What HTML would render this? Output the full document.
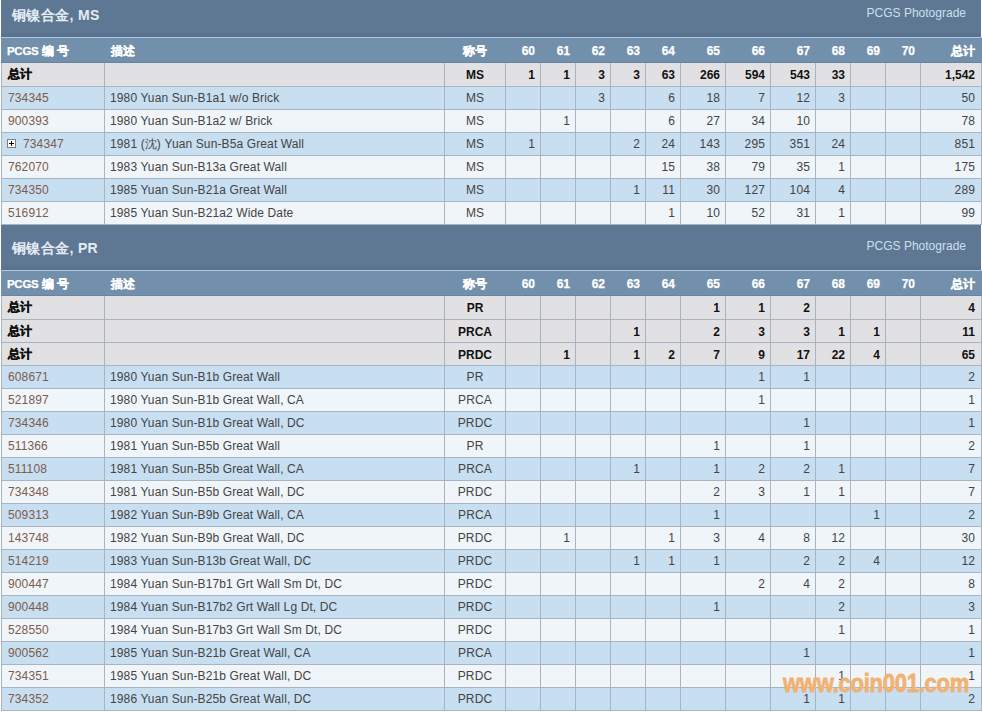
<!DOCTYPE html>
<html><head><meta charset="utf-8"><style>
*{margin:0;padding:0;box-sizing:border-box}
html,body{width:982px;height:712px;overflow:hidden;background:#fff}
body{position:relative;font-family:"Liberation Sans",sans-serif;font-size:12px}
div{position:absolute}
.tb{background:linear-gradient(to bottom,#5e7893 0,#5e7893 41px,#587290 42px,#587290 45px)}
.tt{position:absolute;left:11px;top:14px;font-size:14px;font-weight:bold;color:#e3ecf5;line-height:18px;white-space:nowrap;letter-spacing:0.35px}
.pg{position:absolute;right:15px;top:13px;font-size:12px;color:#cddff0;line-height:16px;white-space:nowrap}
.tl{background:#adc8e0}
.hd{background:linear-gradient(to bottom,#7290ab 0,#7290ab 24px,#6984a1 24px)}
.tot{background:#e1e1e3}
.odd{background:#c8def1}
.even{background:#f0f5f9}
.hl,.vl{background:#a8b4c1}
.c{white-space:nowrap;overflow:visible}
.L{text-align:left;padding-left:6px}
.h0{padding-left:5px}
.M{text-align:center}
.R{text-align:right;padding-right:5px}
.lk{color:#7d5c4c!important}
.h{color:#ffffff;font-weight:bold;line-height:27px;-webkit-text-stroke:0.25px #fff}
.pcgs{letter-spacing:-0.3px;font-size:11.5px}
.b{color:#111;font-weight:bold;line-height:25px}
.b2{line-height:24px}
.zj{position:relative;top:-1px;-webkit-text-stroke:0.4px #111}
.d{color:#444;line-height:22px;letter-spacing:0.12px}
.ds{padding-left:5px}
.last{padding-right:6px!important}
.plus{position:absolute;left:5px;top:6px;width:9px;height:9px;border:1px solid #808080;background:#fff}
.pl{padding-left:21px!important}
.plus::before{content:"";position:absolute;left:1px;top:3px;width:5px;height:1px;background:#000}
.plus::after{content:"";position:absolute;left:3px;top:1px;width:1px;height:5px;background:#000}
.wm{left:783px;top:669px;font-size:25px;font-weight:bold;color:#f1b273;-webkit-text-stroke:0.8px #f1b273;white-space:nowrap;line-height:28px;letter-spacing:-0.3px;transform:scaleX(0.88);transform-origin:0 0}
</style></head><body>
<div class="tb" style="left:1px;top:-8px;width:980px;height:45px;"><span class="tt">铜镍合金, MS</span><span class="pg">PCGS Photograde</span></div><div class="tl" style="left:1px;top:37px;width:981px;height:1px;"></div><div class="hd" style="left:1px;top:38px;width:981px;height:25px;"></div><div class="c h L h0" style="left:2px;top:38px;width:102px;height:25px;"><span class="pcgs">PCGS</span> 编 号</div><div class="c h L" style="left:105px;top:38px;width:339px;height:25px;">描述</div><div class="c h M" style="left:445px;top:38px;width:60px;height:25px;">称号</div><div class="c h R" style="left:506px;top:38px;width:34px;height:25px;">60</div><div class="c h R" style="left:541px;top:38px;width:34px;height:25px;">61</div><div class="c h R" style="left:576px;top:38px;width:34px;height:25px;">62</div><div class="c h R" style="left:611px;top:38px;width:34px;height:25px;">63</div><div class="c h R" style="left:646px;top:38px;width:34px;height:25px;">64</div><div class="c h R" style="left:681px;top:38px;width:44px;height:25px;">65</div><div class="c h R" style="left:726px;top:38px;width:44px;height:25px;">66</div><div class="c h R" style="left:771px;top:38px;width:44px;height:25px;">67</div><div class="c h R" style="left:816px;top:38px;width:34px;height:25px;">68</div><div class="c h R" style="left:851px;top:38px;width:34px;height:25px;">69</div><div class="c h R" style="left:886px;top:38px;width:34px;height:25px;">70</div><div class="c h R last" style="left:921px;top:38px;width:60px;height:25px;">总计</div><div class="tot" style="left:2px;top:63px;width:979px;height:23px;"></div><div class="c b L" style="left:2px;top:63px;width:102px;height:23px;"><span class="zj">总计</span></div><div class="c b M" style="left:445px;top:63px;width:60px;height:23px;">MS</div><div class="c b R" style="left:506px;top:63px;width:34px;height:23px;">1</div><div class="c b R" style="left:541px;top:63px;width:34px;height:23px;">1</div><div class="c b R" style="left:576px;top:63px;width:34px;height:23px;">3</div><div class="c b R" style="left:611px;top:63px;width:34px;height:23px;">3</div><div class="c b R" style="left:646px;top:63px;width:34px;height:23px;">63</div><div class="c b R" style="left:681px;top:63px;width:44px;height:23px;">266</div><div class="c b R" style="left:726px;top:63px;width:44px;height:23px;">594</div><div class="c b R" style="left:771px;top:63px;width:44px;height:23px;">543</div><div class="c b R" style="left:816px;top:63px;width:34px;height:23px;">33</div><div class="c b R last" style="left:921px;top:63px;width:60px;height:23px;">1,542</div><div class="hl" style="left:1px;top:86px;width:981px;height:1px;"></div><div class="odd" style="left:2px;top:87px;width:979px;height:22px;"></div><div class="c d L lk" style="left:2px;top:87px;width:102px;height:22px;">734345</div><div class="c d L ds" style="left:105px;top:87px;width:339px;height:22px;">1980 Yuan Sun-B1a1 w/o Brick</div><div class="c d M" style="left:445px;top:87px;width:60px;height:22px;">MS</div><div class="c d R" style="left:576px;top:87px;width:34px;height:22px;">3</div><div class="c d R" style="left:646px;top:87px;width:34px;height:22px;">6</div><div class="c d R" style="left:681px;top:87px;width:44px;height:22px;">18</div><div class="c d R" style="left:726px;top:87px;width:44px;height:22px;">7</div><div class="c d R" style="left:771px;top:87px;width:44px;height:22px;">12</div><div class="c d R" style="left:816px;top:87px;width:34px;height:22px;">3</div><div class="c d R last" style="left:921px;top:87px;width:60px;height:22px;">50</div><div class="hl" style="left:1px;top:109px;width:981px;height:1px;"></div><div class="even" style="left:2px;top:110px;width:979px;height:22px;"></div><div class="c d L lk" style="left:2px;top:110px;width:102px;height:22px;">900393</div><div class="c d L ds" style="left:105px;top:110px;width:339px;height:22px;">1980 Yuan Sun-B1a2 w/ Brick</div><div class="c d M" style="left:445px;top:110px;width:60px;height:22px;">MS</div><div class="c d R" style="left:541px;top:110px;width:34px;height:22px;">1</div><div class="c d R" style="left:646px;top:110px;width:34px;height:22px;">6</div><div class="c d R" style="left:681px;top:110px;width:44px;height:22px;">27</div><div class="c d R" style="left:726px;top:110px;width:44px;height:22px;">34</div><div class="c d R" style="left:771px;top:110px;width:44px;height:22px;">10</div><div class="c d R last" style="left:921px;top:110px;width:60px;height:22px;">78</div><div class="hl" style="left:1px;top:132px;width:981px;height:1px;"></div><div class="odd" style="left:2px;top:133px;width:979px;height:22px;"></div><div class="c d L lk pl" style="left:2px;top:133px;width:102px;height:22px;"><span class="plus"></span>734347</div><div class="c d L ds" style="left:105px;top:133px;width:339px;height:22px;">1981 (沈) Yuan Sun-B5a Great Wall</div><div class="c d M" style="left:445px;top:133px;width:60px;height:22px;">MS</div><div class="c d R" style="left:506px;top:133px;width:34px;height:22px;">1</div><div class="c d R" style="left:611px;top:133px;width:34px;height:22px;">2</div><div class="c d R" style="left:646px;top:133px;width:34px;height:22px;">24</div><div class="c d R" style="left:681px;top:133px;width:44px;height:22px;">143</div><div class="c d R" style="left:726px;top:133px;width:44px;height:22px;">295</div><div class="c d R" style="left:771px;top:133px;width:44px;height:22px;">351</div><div class="c d R" style="left:816px;top:133px;width:34px;height:22px;">24</div><div class="c d R last" style="left:921px;top:133px;width:60px;height:22px;">851</div><div class="hl" style="left:1px;top:155px;width:981px;height:1px;"></div><div class="even" style="left:2px;top:156px;width:979px;height:22px;"></div><div class="c d L lk" style="left:2px;top:156px;width:102px;height:22px;">762070</div><div class="c d L ds" style="left:105px;top:156px;width:339px;height:22px;">1983 Yuan Sun-B13a Great Wall</div><div class="c d M" style="left:445px;top:156px;width:60px;height:22px;">MS</div><div class="c d R" style="left:646px;top:156px;width:34px;height:22px;">15</div><div class="c d R" style="left:681px;top:156px;width:44px;height:22px;">38</div><div class="c d R" style="left:726px;top:156px;width:44px;height:22px;">79</div><div class="c d R" style="left:771px;top:156px;width:44px;height:22px;">35</div><div class="c d R" style="left:816px;top:156px;width:34px;height:22px;">1</div><div class="c d R last" style="left:921px;top:156px;width:60px;height:22px;">175</div><div class="hl" style="left:1px;top:178px;width:981px;height:1px;"></div><div class="odd" style="left:2px;top:179px;width:979px;height:22px;"></div><div class="c d L lk" style="left:2px;top:179px;width:102px;height:22px;">734350</div><div class="c d L ds" style="left:105px;top:179px;width:339px;height:22px;">1985 Yuan Sun-B21a Great Wall</div><div class="c d M" style="left:445px;top:179px;width:60px;height:22px;">MS</div><div class="c d R" style="left:611px;top:179px;width:34px;height:22px;">1</div><div class="c d R" style="left:646px;top:179px;width:34px;height:22px;">11</div><div class="c d R" style="left:681px;top:179px;width:44px;height:22px;">30</div><div class="c d R" style="left:726px;top:179px;width:44px;height:22px;">127</div><div class="c d R" style="left:771px;top:179px;width:44px;height:22px;">104</div><div class="c d R" style="left:816px;top:179px;width:34px;height:22px;">4</div><div class="c d R last" style="left:921px;top:179px;width:60px;height:22px;">289</div><div class="hl" style="left:1px;top:201px;width:981px;height:1px;"></div><div class="even" style="left:2px;top:202px;width:979px;height:22px;"></div><div class="c d L lk" style="left:2px;top:202px;width:102px;height:22px;">516912</div><div class="c d L ds" style="left:105px;top:202px;width:339px;height:22px;">1985 Yuan Sun-B21a2 Wide Date</div><div class="c d M" style="left:445px;top:202px;width:60px;height:22px;">MS</div><div class="c d R" style="left:646px;top:202px;width:34px;height:22px;">1</div><div class="c d R" style="left:681px;top:202px;width:44px;height:22px;">10</div><div class="c d R" style="left:726px;top:202px;width:44px;height:22px;">52</div><div class="c d R" style="left:771px;top:202px;width:44px;height:22px;">31</div><div class="c d R" style="left:816px;top:202px;width:34px;height:22px;">1</div><div class="c d R last" style="left:921px;top:202px;width:60px;height:22px;">99</div><div class="hl" style="left:1px;top:224px;width:981px;height:1px;"></div><div class="vl" style="left:1px;top:63px;width:1px;height:162px;"></div><div class="vl" style="left:104px;top:63px;width:1px;height:162px;"></div><div class="vl" style="left:444px;top:63px;width:1px;height:162px;"></div><div class="vl" style="left:505px;top:63px;width:1px;height:162px;"></div><div class="vl" style="left:540px;top:63px;width:1px;height:162px;"></div><div class="vl" style="left:575px;top:63px;width:1px;height:162px;"></div><div class="vl" style="left:610px;top:63px;width:1px;height:162px;"></div><div class="vl" style="left:645px;top:63px;width:1px;height:162px;"></div><div class="vl" style="left:680px;top:63px;width:1px;height:162px;"></div><div class="vl" style="left:725px;top:63px;width:1px;height:162px;"></div><div class="vl" style="left:770px;top:63px;width:1px;height:162px;"></div><div class="vl" style="left:815px;top:63px;width:1px;height:162px;"></div><div class="vl" style="left:850px;top:63px;width:1px;height:162px;"></div><div class="vl" style="left:885px;top:63px;width:1px;height:162px;"></div><div class="vl" style="left:920px;top:63px;width:1px;height:162px;"></div><div class="vl" style="left:981px;top:63px;width:1px;height:162px;"></div><div class="tb" style="left:1px;top:225px;width:980px;height:45px;"><span class="tt">铜镍合金, PR</span><span class="pg">PCGS Photograde</span></div><div class="tl" style="left:1px;top:270px;width:981px;height:1px;"></div><div class="hd" style="left:1px;top:271px;width:981px;height:25px;"></div><div class="c h L h0" style="left:2px;top:271px;width:102px;height:25px;"><span class="pcgs">PCGS</span> 编 号</div><div class="c h L" style="left:105px;top:271px;width:339px;height:25px;">描述</div><div class="c h M" style="left:445px;top:271px;width:60px;height:25px;">称号</div><div class="c h R" style="left:506px;top:271px;width:34px;height:25px;">60</div><div class="c h R" style="left:541px;top:271px;width:34px;height:25px;">61</div><div class="c h R" style="left:576px;top:271px;width:34px;height:25px;">62</div><div class="c h R" style="left:611px;top:271px;width:34px;height:25px;">63</div><div class="c h R" style="left:646px;top:271px;width:34px;height:25px;">64</div><div class="c h R" style="left:681px;top:271px;width:44px;height:25px;">65</div><div class="c h R" style="left:726px;top:271px;width:44px;height:25px;">66</div><div class="c h R" style="left:771px;top:271px;width:44px;height:25px;">67</div><div class="c h R" style="left:816px;top:271px;width:34px;height:25px;">68</div><div class="c h R" style="left:851px;top:271px;width:34px;height:25px;">69</div><div class="c h R" style="left:886px;top:271px;width:34px;height:25px;">70</div><div class="c h R last" style="left:921px;top:271px;width:60px;height:25px;">总计</div><div class="tot" style="left:2px;top:296px;width:979px;height:23px;"></div><div class="c b L" style="left:2px;top:296px;width:102px;height:23px;"><span class="zj">总计</span></div><div class="c b M" style="left:445px;top:296px;width:60px;height:23px;">PR</div><div class="c b R" style="left:681px;top:296px;width:44px;height:23px;">1</div><div class="c b R" style="left:726px;top:296px;width:44px;height:23px;">1</div><div class="c b R" style="left:771px;top:296px;width:44px;height:23px;">2</div><div class="c b R last" style="left:921px;top:296px;width:60px;height:23px;">4</div><div class="hl" style="left:1px;top:319px;width:981px;height:1px;"></div><div class="tot" style="left:2px;top:320px;width:979px;height:22px;"></div><div class="c b b2 L" style="left:2px;top:320px;width:102px;height:22px;"><span class="zj">总计</span></div><div class="c b b2 M" style="left:445px;top:320px;width:60px;height:22px;">PRCA</div><div class="c b b2 R" style="left:611px;top:320px;width:34px;height:22px;">1</div><div class="c b b2 R" style="left:681px;top:320px;width:44px;height:22px;">2</div><div class="c b b2 R" style="left:726px;top:320px;width:44px;height:22px;">3</div><div class="c b b2 R" style="left:771px;top:320px;width:44px;height:22px;">3</div><div class="c b b2 R" style="left:816px;top:320px;width:34px;height:22px;">1</div><div class="c b b2 R" style="left:851px;top:320px;width:34px;height:22px;">1</div><div class="c b b2 R last" style="left:921px;top:320px;width:60px;height:22px;">11</div><div class="hl" style="left:1px;top:342px;width:981px;height:1px;"></div><div class="tot" style="left:2px;top:343px;width:979px;height:22px;"></div><div class="c b b2 L" style="left:2px;top:343px;width:102px;height:22px;"><span class="zj">总计</span></div><div class="c b b2 M" style="left:445px;top:343px;width:60px;height:22px;">PRDC</div><div class="c b b2 R" style="left:541px;top:343px;width:34px;height:22px;">1</div><div class="c b b2 R" style="left:611px;top:343px;width:34px;height:22px;">1</div><div class="c b b2 R" style="left:646px;top:343px;width:34px;height:22px;">2</div><div class="c b b2 R" style="left:681px;top:343px;width:44px;height:22px;">7</div><div class="c b b2 R" style="left:726px;top:343px;width:44px;height:22px;">9</div><div class="c b b2 R" style="left:771px;top:343px;width:44px;height:22px;">17</div><div class="c b b2 R" style="left:816px;top:343px;width:34px;height:22px;">22</div><div class="c b b2 R" style="left:851px;top:343px;width:34px;height:22px;">4</div><div class="c b b2 R last" style="left:921px;top:343px;width:60px;height:22px;">65</div><div class="hl" style="left:1px;top:365px;width:981px;height:1px;"></div><div class="odd" style="left:2px;top:366px;width:979px;height:22px;"></div><div class="c d L lk" style="left:2px;top:366px;width:102px;height:22px;">608671</div><div class="c d L ds" style="left:105px;top:366px;width:339px;height:22px;">1980 Yuan Sun-B1b Great Wall</div><div class="c d M" style="left:445px;top:366px;width:60px;height:22px;">PR</div><div class="c d R" style="left:726px;top:366px;width:44px;height:22px;">1</div><div class="c d R" style="left:771px;top:366px;width:44px;height:22px;">1</div><div class="c d R last" style="left:921px;top:366px;width:60px;height:22px;">2</div><div class="hl" style="left:1px;top:388px;width:981px;height:1px;"></div><div class="even" style="left:2px;top:389px;width:979px;height:22px;"></div><div class="c d L lk" style="left:2px;top:389px;width:102px;height:22px;">521897</div><div class="c d L ds" style="left:105px;top:389px;width:339px;height:22px;">1980 Yuan Sun-B1b Great Wall, CA</div><div class="c d M" style="left:445px;top:389px;width:60px;height:22px;">PRCA</div><div class="c d R" style="left:726px;top:389px;width:44px;height:22px;">1</div><div class="c d R last" style="left:921px;top:389px;width:60px;height:22px;">1</div><div class="hl" style="left:1px;top:411px;width:981px;height:1px;"></div><div class="odd" style="left:2px;top:412px;width:979px;height:22px;"></div><div class="c d L lk" style="left:2px;top:412px;width:102px;height:22px;">734346</div><div class="c d L ds" style="left:105px;top:412px;width:339px;height:22px;">1980 Yuan Sun-B1b Great Wall, DC</div><div class="c d M" style="left:445px;top:412px;width:60px;height:22px;">PRDC</div><div class="c d R" style="left:771px;top:412px;width:44px;height:22px;">1</div><div class="c d R last" style="left:921px;top:412px;width:60px;height:22px;">1</div><div class="hl" style="left:1px;top:434px;width:981px;height:1px;"></div><div class="even" style="left:2px;top:435px;width:979px;height:22px;"></div><div class="c d L lk" style="left:2px;top:435px;width:102px;height:22px;">511366</div><div class="c d L ds" style="left:105px;top:435px;width:339px;height:22px;">1981 Yuan Sun-B5b Great Wall</div><div class="c d M" style="left:445px;top:435px;width:60px;height:22px;">PR</div><div class="c d R" style="left:681px;top:435px;width:44px;height:22px;">1</div><div class="c d R" style="left:771px;top:435px;width:44px;height:22px;">1</div><div class="c d R last" style="left:921px;top:435px;width:60px;height:22px;">2</div><div class="hl" style="left:1px;top:457px;width:981px;height:1px;"></div><div class="odd" style="left:2px;top:458px;width:979px;height:22px;"></div><div class="c d L lk" style="left:2px;top:458px;width:102px;height:22px;">511108</div><div class="c d L ds" style="left:105px;top:458px;width:339px;height:22px;">1981 Yuan Sun-B5b Great Wall, CA</div><div class="c d M" style="left:445px;top:458px;width:60px;height:22px;">PRCA</div><div class="c d R" style="left:611px;top:458px;width:34px;height:22px;">1</div><div class="c d R" style="left:681px;top:458px;width:44px;height:22px;">1</div><div class="c d R" style="left:726px;top:458px;width:44px;height:22px;">2</div><div class="c d R" style="left:771px;top:458px;width:44px;height:22px;">2</div><div class="c d R" style="left:816px;top:458px;width:34px;height:22px;">1</div><div class="c d R last" style="left:921px;top:458px;width:60px;height:22px;">7</div><div class="hl" style="left:1px;top:480px;width:981px;height:1px;"></div><div class="even" style="left:2px;top:481px;width:979px;height:22px;"></div><div class="c d L lk" style="left:2px;top:481px;width:102px;height:22px;">734348</div><div class="c d L ds" style="left:105px;top:481px;width:339px;height:22px;">1981 Yuan Sun-B5b Great Wall, DC</div><div class="c d M" style="left:445px;top:481px;width:60px;height:22px;">PRDC</div><div class="c d R" style="left:681px;top:481px;width:44px;height:22px;">2</div><div class="c d R" style="left:726px;top:481px;width:44px;height:22px;">3</div><div class="c d R" style="left:771px;top:481px;width:44px;height:22px;">1</div><div class="c d R" style="left:816px;top:481px;width:34px;height:22px;">1</div><div class="c d R last" style="left:921px;top:481px;width:60px;height:22px;">7</div><div class="hl" style="left:1px;top:503px;width:981px;height:1px;"></div><div class="odd" style="left:2px;top:504px;width:979px;height:22px;"></div><div class="c d L lk" style="left:2px;top:504px;width:102px;height:22px;">509313</div><div class="c d L ds" style="left:105px;top:504px;width:339px;height:22px;">1982 Yuan Sun-B9b Great Wall, CA</div><div class="c d M" style="left:445px;top:504px;width:60px;height:22px;">PRCA</div><div class="c d R" style="left:681px;top:504px;width:44px;height:22px;">1</div><div class="c d R" style="left:851px;top:504px;width:34px;height:22px;">1</div><div class="c d R last" style="left:921px;top:504px;width:60px;height:22px;">2</div><div class="hl" style="left:1px;top:526px;width:981px;height:1px;"></div><div class="even" style="left:2px;top:527px;width:979px;height:22px;"></div><div class="c d L lk" style="left:2px;top:527px;width:102px;height:22px;">143748</div><div class="c d L ds" style="left:105px;top:527px;width:339px;height:22px;">1982 Yuan Sun-B9b Great Wall, DC</div><div class="c d M" style="left:445px;top:527px;width:60px;height:22px;">PRDC</div><div class="c d R" style="left:541px;top:527px;width:34px;height:22px;">1</div><div class="c d R" style="left:646px;top:527px;width:34px;height:22px;">1</div><div class="c d R" style="left:681px;top:527px;width:44px;height:22px;">3</div><div class="c d R" style="left:726px;top:527px;width:44px;height:22px;">4</div><div class="c d R" style="left:771px;top:527px;width:44px;height:22px;">8</div><div class="c d R" style="left:816px;top:527px;width:34px;height:22px;">12</div><div class="c d R last" style="left:921px;top:527px;width:60px;height:22px;">30</div><div class="hl" style="left:1px;top:549px;width:981px;height:1px;"></div><div class="odd" style="left:2px;top:550px;width:979px;height:22px;"></div><div class="c d L lk" style="left:2px;top:550px;width:102px;height:22px;">514219</div><div class="c d L ds" style="left:105px;top:550px;width:339px;height:22px;">1983 Yuan Sun-B13b Great Wall, DC</div><div class="c d M" style="left:445px;top:550px;width:60px;height:22px;">PRDC</div><div class="c d R" style="left:611px;top:550px;width:34px;height:22px;">1</div><div class="c d R" style="left:646px;top:550px;width:34px;height:22px;">1</div><div class="c d R" style="left:681px;top:550px;width:44px;height:22px;">1</div><div class="c d R" style="left:771px;top:550px;width:44px;height:22px;">2</div><div class="c d R" style="left:816px;top:550px;width:34px;height:22px;">2</div><div class="c d R" style="left:851px;top:550px;width:34px;height:22px;">4</div><div class="c d R last" style="left:921px;top:550px;width:60px;height:22px;">12</div><div class="hl" style="left:1px;top:572px;width:981px;height:1px;"></div><div class="even" style="left:2px;top:573px;width:979px;height:22px;"></div><div class="c d L lk" style="left:2px;top:573px;width:102px;height:22px;">900447</div><div class="c d L ds" style="left:105px;top:573px;width:339px;height:22px;">1984 Yuan Sun-B17b1 Grt Wall Sm Dt, DC</div><div class="c d M" style="left:445px;top:573px;width:60px;height:22px;">PRDC</div><div class="c d R" style="left:726px;top:573px;width:44px;height:22px;">2</div><div class="c d R" style="left:771px;top:573px;width:44px;height:22px;">4</div><div class="c d R" style="left:816px;top:573px;width:34px;height:22px;">2</div><div class="c d R last" style="left:921px;top:573px;width:60px;height:22px;">8</div><div class="hl" style="left:1px;top:595px;width:981px;height:1px;"></div><div class="odd" style="left:2px;top:596px;width:979px;height:22px;"></div><div class="c d L lk" style="left:2px;top:596px;width:102px;height:22px;">900448</div><div class="c d L ds" style="left:105px;top:596px;width:339px;height:22px;">1984 Yuan Sun-B17b2 Grt Wall Lg Dt, DC</div><div class="c d M" style="left:445px;top:596px;width:60px;height:22px;">PRDC</div><div class="c d R" style="left:681px;top:596px;width:44px;height:22px;">1</div><div class="c d R" style="left:816px;top:596px;width:34px;height:22px;">2</div><div class="c d R last" style="left:921px;top:596px;width:60px;height:22px;">3</div><div class="hl" style="left:1px;top:618px;width:981px;height:1px;"></div><div class="even" style="left:2px;top:619px;width:979px;height:22px;"></div><div class="c d L lk" style="left:2px;top:619px;width:102px;height:22px;">528550</div><div class="c d L ds" style="left:105px;top:619px;width:339px;height:22px;">1984 Yuan Sun-B17b3 Grt Wall Sm Dt, DC</div><div class="c d M" style="left:445px;top:619px;width:60px;height:22px;">PRDC</div><div class="c d R" style="left:816px;top:619px;width:34px;height:22px;">1</div><div class="c d R last" style="left:921px;top:619px;width:60px;height:22px;">1</div><div class="hl" style="left:1px;top:641px;width:981px;height:1px;"></div><div class="odd" style="left:2px;top:642px;width:979px;height:22px;"></div><div class="c d L lk" style="left:2px;top:642px;width:102px;height:22px;">900562</div><div class="c d L ds" style="left:105px;top:642px;width:339px;height:22px;">1985 Yuan Sun-B21b Great Wall, CA</div><div class="c d M" style="left:445px;top:642px;width:60px;height:22px;">PRCA</div><div class="c d R" style="left:771px;top:642px;width:44px;height:22px;">1</div><div class="c d R last" style="left:921px;top:642px;width:60px;height:22px;">1</div><div class="hl" style="left:1px;top:664px;width:981px;height:1px;"></div><div class="even" style="left:2px;top:665px;width:979px;height:22px;"></div><div class="c d L lk" style="left:2px;top:665px;width:102px;height:22px;">734351</div><div class="c d L ds" style="left:105px;top:665px;width:339px;height:22px;">1985 Yuan Sun-B21b Great Wall, DC</div><div class="c d M" style="left:445px;top:665px;width:60px;height:22px;">PRDC</div><div class="c d R" style="left:816px;top:665px;width:34px;height:22px;">1</div><div class="c d R last" style="left:921px;top:665px;width:60px;height:22px;">1</div><div class="hl" style="left:1px;top:687px;width:981px;height:1px;"></div><div class="odd" style="left:2px;top:688px;width:979px;height:22px;"></div><div class="c d L lk" style="left:2px;top:688px;width:102px;height:22px;">734352</div><div class="c d L ds" style="left:105px;top:688px;width:339px;height:22px;">1986 Yuan Sun-B25b Great Wall, DC</div><div class="c d M" style="left:445px;top:688px;width:60px;height:22px;">PRDC</div><div class="c d R" style="left:771px;top:688px;width:44px;height:22px;">1</div><div class="c d R" style="left:816px;top:688px;width:34px;height:22px;">1</div><div class="c d R last" style="left:921px;top:688px;width:60px;height:22px;">2</div><div class="hl" style="left:1px;top:710px;width:981px;height:1px;"></div><div class="vl" style="left:1px;top:296px;width:1px;height:415px;"></div><div class="vl" style="left:104px;top:296px;width:1px;height:415px;"></div><div class="vl" style="left:444px;top:296px;width:1px;height:415px;"></div><div class="vl" style="left:505px;top:296px;width:1px;height:415px;"></div><div class="vl" style="left:540px;top:296px;width:1px;height:415px;"></div><div class="vl" style="left:575px;top:296px;width:1px;height:415px;"></div><div class="vl" style="left:610px;top:296px;width:1px;height:415px;"></div><div class="vl" style="left:645px;top:296px;width:1px;height:415px;"></div><div class="vl" style="left:680px;top:296px;width:1px;height:415px;"></div><div class="vl" style="left:725px;top:296px;width:1px;height:415px;"></div><div class="vl" style="left:770px;top:296px;width:1px;height:415px;"></div><div class="vl" style="left:815px;top:296px;width:1px;height:415px;"></div><div class="vl" style="left:850px;top:296px;width:1px;height:415px;"></div><div class="vl" style="left:885px;top:296px;width:1px;height:415px;"></div><div class="vl" style="left:920px;top:296px;width:1px;height:415px;"></div><div class="vl" style="left:981px;top:296px;width:1px;height:415px;"></div>
<div class="wm">www.coin001.com</div>
</body></html>
